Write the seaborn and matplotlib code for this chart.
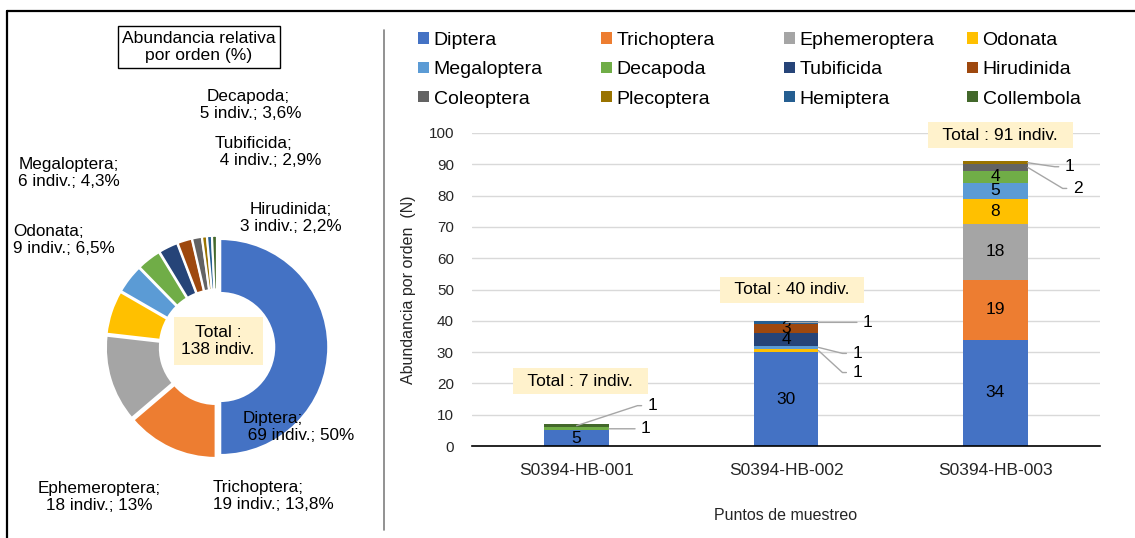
import math
import numpy as np
import pandas as pd
import matplotlib
matplotlib.use("Agg")
import matplotlib.pyplot as plt
from matplotlib.patches import Patch
from matplotlib.lines import Line2D
import seaborn as sns

# ---- data -------------------------------------------------------------
orders = ["Diptera", "Trichoptera", "Ephemeroptera", "Odonata",
          "Megaloptera", "Decapoda", "Tubificida", "Hirudinida",
          "Coleoptera", "Plecoptera", "Hemiptera", "Collembola"]
order_colors = ["#4472C4", "#ED7D31", "#A5A5A5", "#FFC000",
                "#5B9BD5", "#70AD47", "#264478", "#9E480E",
                "#636363", "#997300", "#255E91", "#43682B"]
sites = ["S0394-HB-001", "S0394-HB-002", "S0394-HB-003"]
counts_hb001 = [5, 0, 0, 0, 0, 1, 0, 0, 0, 0, 0, 1]
counts_hb002 = [30, 0, 0, 1, 1, 0, 4, 3, 0, 0, 1, 0]
counts_hb003 = [34, 19, 18, 8, 5, 4, 0, 0, 2, 1, 0, 0]
y_ticks = list(range(0, 101, 10))

# ---- styling ----------------------------------------------------------
sns.set_style("white")
plt.rcParams["font.family"] = ["Liberation Sans", "DejaVu Sans"]
plt.rcParams["text.color"] = "black"

W, H = 1135, 538
fig = plt.figure(figsize=(W / 100, H / 100), dpi=100)


def fx(x):
    return x / W


def fy(y):
    return 1 - y / H


df = pd.DataFrame({
    "site": np.repeat(sites, len(orders)),
    "order": orders * len(sites),
    "n": counts_hb001 + counts_hb002 + counts_hb003,
})
totals_by_order = df.groupby("order", sort=False)["n"].sum().loc[orders]
grand_total = int(totals_by_order.sum())

# ---- stacked bars per sampling point ----------------------------------
ax = fig.add_axes([fx(472), fy(446), (1100 - 472) / W, (446 - 133) / H])
bar_w = 0.31
bottom = np.zeros(len(sites))
segments = {}
for order, color in zip(orders, order_colors):
    vals = df[df.order == order].set_index("site").loc[sites, "n"].to_numpy().astype(float)
    sns.barplot(x=sites, y=vals, bottom=bottom.copy(), color=color, width=bar_w,
                saturation=1, errorbar=None, linewidth=0, ax=ax)
    for i in range(len(sites)):
        segments[(i, order)] = (bottom[i], vals[i])
    bottom += vals
site_totals = bottom.astype(int)

ax.set_xlim(-0.5, len(sites) - 0.5)
ax.set_ylim(0, 100)
ax.set_yticks(y_ticks)
ax.yaxis.grid(True, color="#D9D9D9", lw=1)
ax.set_axisbelow(True)
for s in ("top", "right", "left"):
    ax.spines[s].set_visible(False)
ax.spines["bottom"].set_color("black")
ax.spines["bottom"].set_linewidth(1.2)
ax.tick_params(axis="both", length=0)
ax.tick_params(axis="y", labelsize=11, pad=13)
ax.tick_params(axis="x", labelsize=12.5, pad=12)
ax.set_xlabel("Puntos de muestreo", fontsize=11.5)
ax.set_ylabel("Abundancia por orden  (N)", fontsize=11.5)
ax.xaxis.set_label_coords(0.5, (446 - 515) / 313)
ax.xaxis.label.set_va("center")
ax.yaxis.set_label_coords((408 - 472) / 628, 0.5)
ax.yaxis.label.set_va("center")

# value labels, small segments get a leader line
leader_specs = [  # (site index, order, anchor 0=centre 1=right edge, dx px, dy px)
    (0, "Decapoda", 1, 32, 0),
    (0, "Collembola", 0, 71, 20),
    (1, "Hemiptera", 0, 77, 0),
    (1, "Megaloptera", 1, 34, -6),
    (1, "Odonata", 1, 34, -22),
    (2, "Plecoptera", 1, 37, -4),
    (2, "Coleoptera", 1, 45, -21),
]
led = {(s, o) for s, o, *_ in leader_specs}
for (i, order), (b, v) in segments.items():
    if v > 0 and (i, order) not in led:
        ax.text(i, b + v / 2, f"{int(v)}", ha="center", va="center", fontsize=12.5)
for i, order, anchor, dx, dy in leader_specs:
    b, v = segments[(i, order)]
    if dy == 0:
        conn = "arc3"
    else:
        ang = math.degrees(math.atan2(dy, dx - 10))
        conn = f"angle,angleA=0,angleB={ang:.1f},rad=0"
    ax.annotate(f"{int(v)}", xy=(i + anchor * bar_w / 2, b + v / 2),
                xytext=(dx, dy), textcoords="offset pixels",
                ha="left", va="center", fontsize=12.5,
                arrowprops=dict(arrowstyle="-", color="#A6A6A6", lw=1,
                                shrinkA=2, shrinkB=0, relpos=(0, 0.5),
                                connectionstyle=conn))

total_offsets = [(4, 43), (6, 31), (5, 26)]
for i, (t, (dx, dy)) in enumerate(zip(site_totals, total_offsets)):
    ax.annotate(f"  Total : {t} indiv.  ", xy=(i, t), xytext=(dx, dy),
                textcoords="offset pixels", ha="center", va="center",
                fontsize=12.5,
                bbox=dict(boxstyle="square,pad=0.3", fc="#FFF2CC", ec="none"))

# legend, four columns of three entries
col_x = [418, 601, 784, 967]
for c, x0 in enumerate(col_x):
    idx = [c, c + 4, c + 8]
    handles = [Patch(facecolor=order_colors[k], edgecolor="none") for k in idx]
    fig.legend(handles, [orders[k] for k in idx], loc="upper left",
               bbox_to_anchor=(fx(x0), fy(32)), frameon=False,
               borderpad=0, borderaxespad=0, handlelength=0.55,
               handleheight=0.55, handletextpad=0.25, labelspacing=0.63,
               fontsize=14)

# ---- donut of relative abundance --------------------------------------
cx, cy, r_px = 217, 347, 108
half = 120
axp = fig.add_axes([fx(cx - half), fy(cy + half), 2 * half / W, 2 * half / H])
axp.pie(totals_by_order.to_numpy(), colors=order_colors, startangle=90,
        counterclock=False, explode=[0.03] * len(orders),
        wedgeprops=dict(width=0.5, edgecolor="white", linewidth=1.5))
lim = half / r_px
axp.set_xlim(-lim, lim)
axp.set_ylim(-lim, lim)
axp.axis("off")


def pct_text(n):
    p = round(100 * n / grand_total, 1)
    s = f"{p:.1f}".replace(".", ",")
    return (s[:-2] if s.endswith(",0") else s) + "%"


donut_labels = [  # (order, x px, y px, alignment, leading space on 2nd line)
    ("Decapoda", 248, 105, "center", True),
    ("Tubificida", 215, 152, "left", True),
    ("Hirudinida", 291, 218, "center", False),
    ("Megaloptera", 69, 173, "center", False),
    ("Odonata", 13, 240, "left", False),
    ("Diptera", 243, 427, "left", True),
    ("Trichoptera", 213, 496, "left", False),
    ("Ephemeroptera", 99, 497, "center", False),
]
for order, x, y, ha, lead in donut_labels:
    n = int(totals_by_order[order])
    txt = f"{order};\n{' ' if lead else ''}{n} indiv.; {pct_text(n)}"
    fig.text(fx(x), fy(y), txt, ha=ha, va="center", multialignment=ha,
             fontsize=12.3)

fig.text(fx(218), fy(341), f"Total :\n{grand_total} indiv.", ha="center",
         va="center", multialignment="center", fontsize=12.5,
         bbox=dict(boxstyle="square,pad=0.45", fc="#FFF2CC", ec="none"))

fig.text(fx(199), fy(47), "Abundancia relativa\npor orden (%)", ha="center",
         va="center", multialignment="center", fontsize=12.6, linespacing=1.2,
         bbox=dict(boxstyle="square,pad=0.25", fc="white", ec="black", lw=1))

# ---- frame and separator ----------------------------------------------
fig.add_artist(Line2D([fx(7), fx(7)], [fy(11), 0], transform=fig.transFigure,
                      color="black", lw=1.6))
fig.add_artist(Line2D([fx(7), 1], [fy(11), fy(11)], transform=fig.transFigure,
                      color="black", lw=1.6))
fig.add_artist(Line2D([fx(384), fx(384)], [fy(30), fy(530)],
                      transform=fig.transFigure, color="#7F7F7F", lw=1.2))

fig.savefig("out.png", dpi=100, facecolor="white")
